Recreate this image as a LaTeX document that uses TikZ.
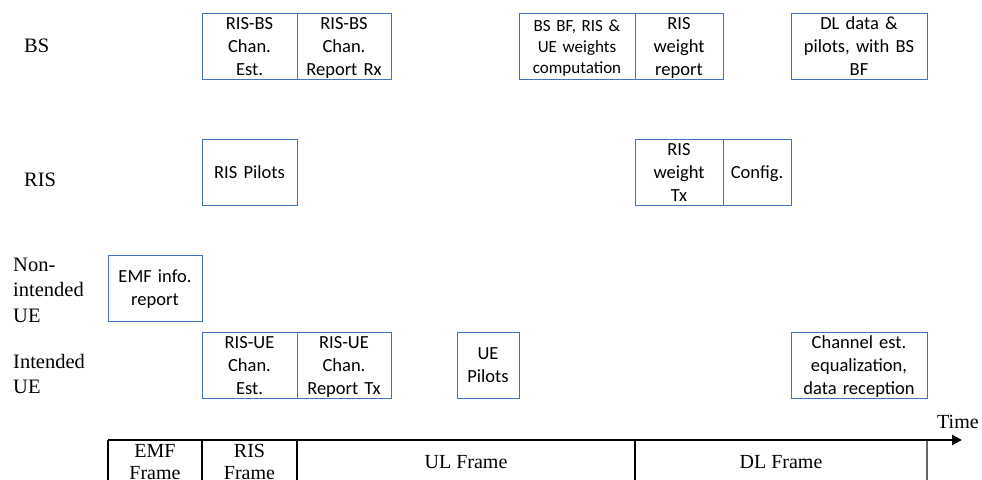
\documentclass[tikz,border=0pt]{standalone}
\usepackage{fontspec}
\setmainfont{Liberation Serif}
\newfontfamily\boxfont{Carlito}
\usetikzlibrary{arrows.meta}
\definecolor{boxblue}{RGB}{68,114,196}
\begin{document}
\begin{tikzpicture}[x=1pt,y=-1pt,
 blk/.style={draw=boxblue, line width=1pt, inner sep=0pt, align=center, minimum height=66pt, font=\boxfont\fontsize{18.5}{23}\selectfont, execute at begin node=\rule{0pt}{16pt}, execute at end node=\rule[-4pt]{0pt}{4pt}},
 lbl/.style={font=\fontsize{20.5}{25.5}\selectfont, inner sep=0pt, anchor=west, align=left},
 frm/.style={font=\fontsize{20}{22}\selectfont, inner sep=0pt, align=center},
 tl/.style={line width=1.5pt}]
\useasboundingbox (0,0) rectangle (982,479);
\clip (0,0) rectangle (982,479);
% row labels
\node[lbl] (lbs) at (24,46) {BS};
\node[lbl] (lris) at (24,180) {RIS};
\node[lbl] (lnue) at (13,290) {Non-\\intended\\UE};
\node[lbl] (liue) at (13,374) {Intended\\UE};
% BS row
\node[blk, minimum width=95pt, text width=91pt] (rbe) at (249.5,46) {RIS-BS\\Chan.\\Est.};
\node[blk, minimum width=94pt, text width=90pt] (rbr) at (344,46) {RIS-BS\\Chan.\\Report Rx};
\node[blk, minimum width=116pt, text width=112pt, font=\boxfont\fontsize{17}{21}\selectfont] (cmp) at (577,46) {BS BF, RIS \&\\UE weights\\computation};
\node[blk, minimum width=88pt, text width=84pt] (rwr) at (679,46) {RIS\\weight\\report};
\node[blk, minimum width=136pt, text width=132pt] (dld) at (859,46) {DL data \&\\pilots, with BS\\BF};
% RIS row
\node[blk, minimum width=95pt, text width=91pt] (rpl) at (249.5,172) {RIS Pilots};
\node[blk, minimum width=88pt, text width=84pt] (rwt) at (679,172) {RIS\\weight\\Tx};
\node[blk, minimum width=68pt, text width=64pt] (cfg) at (757,172) {Config.};
% Non-intended UE row
\node[blk, minimum width=94pt, text width=90pt] (emf) at (155,288) {EMF info.\\report};
% Intended UE row
\node[blk, minimum width=95pt, text width=91pt] (rue) at (249.5,365) {RIS-UE\\Chan.\\Est.};
\node[blk, minimum width=94pt, text width=90pt] (rur) at (344,365) {RIS-UE\\Chan.\\Report Tx};
\node[blk, minimum width=62pt, text width=58pt] (uep) at (488,365) {UE\\Pilots};
\node[blk, minimum width=136pt, text width=132pt] (che) at (859,365) {Channel est.\\equalization,\\data reception};
% timeline
\coordinate (t0) at (108,440);
\coordinate (t1) at (202,440);
\coordinate (t2) at (297,440);
\coordinate (t3) at (635,440);
\coordinate (t4) at (927,440);
\coordinate (tend) at (962,440);
\coordinate (b0) at (108,480);
\coordinate (b1) at (202,480);
\coordinate (b2) at (297,480);
\coordinate (b3) at (635,480);
\coordinate (b4) at (927,480);
\draw[tl] (t0) -- (b0);
\draw[tl] (t1) -- (b1);
\draw[tl] (t2) -- (b2);
\draw[tl] (t3) -- (b3);
\draw[tl, draw=black!60] (t4) -- (b4);
\draw[line width=2.5pt, -{Triangle[length=10pt,width=10pt]}] (t0) -- (tend);
\node[frm, anchor=west] (time) at (937,422) {Time};
\node[frm] (fe) at (155,462) {EMF\\Frame};
\node[frm] (fr) at (249.5,462) {RIS\\Frame};
\node[frm] (fu) at (466,462) {UL Frame};
\node[frm] (fd) at (781,462) {DL Frame};
\end{tikzpicture}
\end{document}
